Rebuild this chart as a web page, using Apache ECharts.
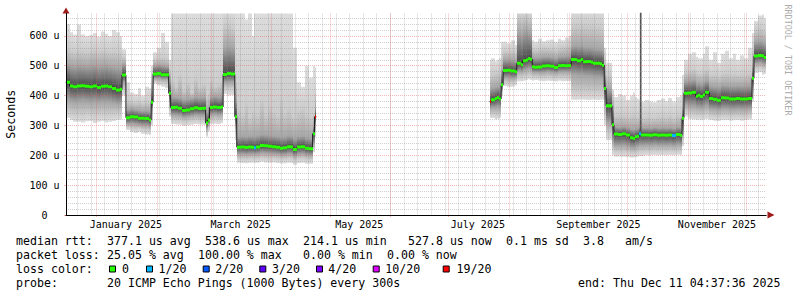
<!DOCTYPE html>
<html>
<head>
<meta charset="utf-8">
<title>SmokePing – median rtt (360 days)</title>
<script src="https://cdn.jsdelivr.net/npm/echarts@6.0.0/dist/echarts.min.js"></script>
<style>
html, body { margin: 0; padding: 0; background: #ffffff; }
#chart { width: 797px; height: 297px; }
</style>
</head>
<body>
<div id="chart"></div>
<script>
// ---------------- DATA ----------------
const rangeStart = '2024-12-16T04:37:36Z';
const rangeEnd   = '2025-12-11T04:37:36Z';

// start of each sample column; a column lasts until the next date. null rows = no data
const sampleDates = [
  '2024-12-16','2024-12-18','2024-12-20','2024-12-22','2024-12-24','2024-12-26','2024-12-28','2024-12-30','2025-01-01','2025-01-03','2025-01-05','2025-01-07','2025-01-09','2025-01-11','2025-01-13','2025-01-14',
  '2025-01-16','2025-01-18','2025-01-20','2025-01-22','2025-01-24','2025-01-26','2025-01-28','2025-01-29',
  '2025-01-30','2025-02-01','2025-02-03','2025-02-05','2025-02-07',
  '2025-02-08','2025-02-10','2025-02-12','2025-02-14','2025-02-16','2025-02-18','2025-02-20','2025-02-22','2025-02-24','2025-02-26','2025-02-27','2025-02-28','2025-03-02','2025-03-04','2025-03-06',
  '2025-03-07','2025-03-09','2025-03-11','2025-03-13',
  '2025-03-14','2025-03-16','2025-03-18','2025-03-20','2025-03-22','2025-03-23','2025-03-24','2025-03-26','2025-03-28','2025-03-30','2025-04-01','2025-04-03','2025-04-05','2025-04-07','2025-04-09','2025-04-11','2025-04-12','2025-04-14','2025-04-16','2025-04-18','2025-04-20','2025-04-22','2025-04-23',
  '2025-04-24',
  '2025-07-22','2025-07-23','2025-07-25','2025-07-26','2025-07-27','2025-07-28',
  '2025-07-29','2025-07-31','2025-08-02','2025-08-04',
  '2025-08-05','2025-08-07','2025-08-08','2025-08-10','2025-08-11','2025-08-12',
  '2025-08-13','2025-08-14','2025-08-16','2025-08-18','2025-08-20','2025-08-22','2025-08-24','2025-08-26','2025-08-28','2025-08-30','2025-09-01',
  '2025-09-02','2025-09-04','2025-09-05','2025-09-07','2025-09-08','2025-09-10','2025-09-12','2025-09-13','2025-09-15','2025-09-17','2025-09-18','2025-09-19','2025-09-20','2025-09-23',
  '2025-09-24','2025-09-26','2025-09-28','2025-09-30','2025-10-02','2025-10-04','2025-10-05','2025-10-06','2025-10-07','2025-10-08','2025-10-10','2025-10-12','2025-10-14','2025-10-16','2025-10-18','2025-10-20','2025-10-22','2025-10-24','2025-10-26','2025-10-28','2025-10-29',
  '2025-10-30','2025-11-01','2025-11-03','2025-11-05','2025-11-06','2025-11-07','2025-11-09','2025-11-10','2025-11-12','2025-11-14','2025-11-16','2025-11-18','2025-11-20','2025-11-22','2025-11-24','2025-11-26','2025-11-28','2025-11-30','2025-12-02','2025-12-04',
  '2025-12-05','2025-12-07','2025-12-09','2025-12-10',
  '2025-12-11T04:37:36Z'
];

// median rtt (microseconds)
const median = [
  445,432,430,432,433,431,430,432,427,431,432,430,424,419,421,469,
  326,329,328,324,324,323,318,378,
  472,474,470,470,408,
  360,361,358,350,352,356,359,357,358,308,318,360,362,360,362,
  471,474,472,329,
  227,228,226,228,227,225,228,233,232,230,229,227,224,225,229,228,219,228,229,224,222,272,329,
  null,
  380,386,390,394,389,436,
  484,485,482,480,
  508,503,517,519,524,522,
  497,495,496,499,500,498,494,500,501,500,501,
  521,521,517,521,513,514,512,508,508,507,502,424,366,302,
  271,270,272,268,259,256,262,264,272,268,268,267,269,267,268,267,268,266,270,267,324,
  408,409,411,398,401,397,402,411,390,388,384,393,392,389,389,390,389,389,390,458,
  533,534,533,528,
  null
];

// smoke: lowest ping
const pingLow = [
  325,318,312,312,310,314,315,308,312,315,310,312,315,318,320,400,
  285,278,275,278,272,270,268,300,
  440,435,430,425,330,
  305,303,302,298,300,302,305,303,302,262,280,305,306,305,308,
  405,400,402,250,
  175,174,173,175,176,174,175,178,176,175,176,174,172,173,175,174,168,174,175,172,172,210,260,
  null,
  325,325,320,322,325,400,
  432,428,430,435,
  448,447,450,452,455,452,
  450,452,450,448,450,449,447,450,448,449,448,
  386,385,386,388,386,385,386,387,385,386,386,300,250,200,
  195,196,195,194,192,193,194,195,198,198,200,200,201,200,201,200,201,200,202,200,230,
  330,322,320,318,320,318,320,322,318,316,315,318,318,316,317,318,316,318,320,380,
  475,478,470,472,
  null
];

// smoke: lower edge of the medium grey band
const midLow = [
  345,338,335,336,333,338,336,332,335,338,334,336,338,340,342,420,
  293,290,288,290,286,285,282,320,
  448,445,442,440,345,
  318,316,315,312,314,316,318,316,315,275,292,318,320,318,320,
  425,422,424,270,
  188,188,187,189,189,188,189,192,190,189,190,188,186,187,189,188,182,188,189,186,185,225,275,
  null,
  335,338,335,336,338,410,
  445,442,444,446,
  462,460,464,466,468,466,
  462,463,462,461,463,462,460,462,461,462,462,
  410,408,410,412,410,408,410,410,408,410,408,330,275,220,
  212,212,212,210,206,206,208,210,213,213,214,214,215,214,215,214,215,214,216,214,250,
  345,338,336,334,335,333,336,338,332,330,328,332,332,330,331,332,330,332,334,400,
  490,492,488,488,
  null
];

// smoke: lower edge of the dark core
const coreLow = [
  385,380,378,380,382,380,378,380,378,380,380,378,375,372,374,445,
  305,306,304,302,300,300,296,350,
  458,458,455,455,370,
  335,334,333,328,330,332,335,334,333,290,305,336,338,336,338,
  445,445,446,295,
  204,204,203,204,205,203,205,208,207,206,205,204,201,202,205,204,197,204,205,201,200,240,295,
  null,
  355,360,360,362,360,420,
  460,460,458,460,
  482,480,485,488,490,488,
  478,478,477,478,480,478,476,480,480,480,480,
  470,470,468,470,466,465,465,462,462,460,458,370,310,245,
  232,232,233,230,225,224,228,230,233,233,234,233,235,233,234,233,234,232,236,233,275,
  370,365,364,360,360,358,362,365,355,354,352,356,356,354,354,355,354,355,356,425,
  508,510,506,505,
  null
];

// smoke: upper edge of the dark core
const coreHigh = [
  505,500,498,502,500,498,500,503,498,500,502,498,495,492,490,505,
  352,355,352,350,348,348,345,430,
  500,502,500,498,450,
  395,394,392,385,388,390,395,392,393,345,360,395,398,395,400,
  560,565,560,380,
  262,263,262,264,263,262,265,270,268,266,265,263,260,261,265,264,256,262,264,258,256,300,360,
  null,
  420,425,428,430,428,480,
  520,520,518,515,
  610,600,615,620,610,610,
  528,526,527,530,530,528,525,530,531,532,533,
  565,568,565,570,562,562,560,558,556,555,552,470,420,360,
  295,294,296,292,288,286,290,290,295,292,292,291,293,291,292,291,292,290,294,292,360,
  448,450,452,440,442,438,444,450,432,430,428,435,434,432,432,433,432,432,434,500,
  580,582,578,575,
  null
];

// smoke: upper edge of the medium grey band
const midHigh = [
  560,552,548,555,550,548,552,556,550,553,552,548,550,548,545,530,
  385,380,378,382,375,380,375,470,
  522,525,530,525,490,
  450,430,470,420,445,410,460,430,440,400,410,455,430,440,450,
  640,645,630,450,
  360,340,380,330,350,345,340,390,340,370,350,335,400,345,360,340,330,350,360,340,330,340,420,
  null,
  470,475,478,480,480,530,
  550,548,552,545,
  670,665,670,672,660,665,
  560,556,560,562,560,558,555,562,565,568,570,
  640,645,640,645,640,638,640,636,635,632,630,520,470,400,
  335,338,335,330,335,338,330,330,330,325,328,325,326,330,332,328,334,326,335,340,420,
  480,485,490,478,476,475,480,490,470,472,465,475,478,470,474,470,472,470,478,560,
  625,630,625,620,
  null
];

// smoke: highest ping (values above the top are cut by the graph)
const pingHigh = [
  640,612,605,638,605,600,603,610,598,615,607,600,620,612,600,555,
  445,410,405,425,400,430,425,500,
  545,560,610,580,520,
  700,700,700,700,700,700,700,700,700,700,700,700,700,700,700,
  700,700,700,700,
  700,700,655,700,600,700,700,700,700,700,700,700,700,700,700,700,560,445,430,500,460,500,495,
  null,
  520,525,515,520,525,580,
  580,575,585,570,
  700,700,700,700,700,700,
  585,580,590,582,585,588,580,590,585,595,600,
  700,700,700,700,700,700,700,700,700,700,700,560,510,420,
  395,405,400,385,400,410,395,390,385,380,385,380,378,385,390,382,392,380,395,400,470,
  520,540,545,530,525,525,540,565,520,545,510,540,550,525,540,520,535,525,560,610,
  650,668,672,660,
  null
];

// lost pings out of 20 per column
const lossCount = [
  0,0,0,0,0,0,0,0,0,0,0,0,0,0,0,0,
  0,0,0,0,0,0,0,0,
  0,0,0,0,0,
  0,0,0,0,0,0,0,0,0,0,0,0,0,0,0,
  0,0,0,0,
  0,0,0,0,0,1,0,0,0,0,0,0,0,0,0,0,0,0,0,0,0,0,19,
  null,
  19,0,0,0,0,0,
  0,0,0,0,
  0,0,0,0,0,0,
  0,0,0,0,0,0,0,0,0,0,0,
  0,0,0,0,0,0,0,0,0,0,0,0,0,0,
  0,0,0,0,0,0,0,0,1,0,0,0,0,0,0,0,0,1,0,0,0,
  0,0,0,0,0,0,0,0,0,0,0,0,0,0,0,0,0,0,0,0,
  0,0,0,0,
  null
];

// single column whose pings reach past the top of the graph
const spikeDates = ['2025-10-07T18:00:00Z'];
const spikeBase  = [272];
const spikeTop   = [700];

// loss colour legend
const lossLevels = [0, 1, 2, 3, 4, 10, 19];
const lossLabels = ['0', '1/20', '2/20', '3/20', '4/20', '10/20', '19/20'];
const lossColors = ['#26ff00', '#00b8ff', '#0059ff', '#5e00ff', '#7e00ff', '#dd00ff', '#ff0000'];

// axis tick labels
const yTickValues = [0, 100, 200, 300, 400, 500, 600];
const yTickUnit = 'u';
const xLabelMonths = ['2025-01', '2025-03', '2025-05', '2025-07', '2025-09', '2025-11'];
const xLabelTexts = ['January 2025', 'March 2025', 'May 2025', 'July 2025', 'September 2025', 'November 2025'];

// footer texts
const statsRtt = ['median rtt:', '377.1 us avg', '538.6 us max', '214.1 us min', '527.8 us now', '0.1 ms sd', '3.8', 'am/s'];
const statsLoss = ['packet loss:', '25.05 % avg', '100.00 % max', '0.00 % min', '0.00 % now'];
const lossTitle = 'loss color:';
const probeTitle = 'probe:';
const probeText = '20 ICMP Echo Pings (1000 Bytes) every 300s';
const endText = 'end: Thu Dec 11 04:37:36 2025';
const yTitle = 'Seconds';
const sideText = 'RRDTOOL / TOBI OETIKER';

// ---------------- STYLE / LAYOUT ----------------
const MONO = '"DejaVu Sans Mono", "Liberation Mono", monospace';
const CHAR_W = 7;
const LEG_FONT = '11.6px ' + MONO;
const YMAX = 675;
const GRID_MINOR = 'rgba(140,140,140,0.42)';
const GRID_MAJOR = 'rgba(230,80,80,0.42)';
const ARROW = '#a01c1c';
const SMOKE_OUTER = '#dddddd', SMOKE_MID = '#cdcdcd', SMOKE_CORE = '#a6a6a6', SMOKE_CENTER = '#474747';
const rttCols = [0, 13, 27, 41, 56, 70, 81, 87];
const lossCols = [0, 13, 26, 41, 53];
const legendBoxX = [109, 146, 202.7, 259.3, 316, 372.7, 442.7];
const legendTextX = [122, 158.6, 215.3, 272, 328.3, 385.3, 456.6];
const lineY = [240.7, 255.3, 269.3, 283.3];

// ---------------- BUILD ----------------
const toTime = s => Date.parse(s.length === 10 ? s + 'T00:00:00Z' : s);
const START = toTime(rangeStart), END = toTime(rangeEnd);
const DAY = 864e5;

function lossColor(c) {
  let col = lossColors[0];
  for (let k = 0; k < lossLevels.length; k++) if (c >= lossLevels[k]) col = lossColors[k];
  return col;
}

const smokeData = [], markData = [], lineData = [];
for (let i = 0; i < sampleDates.length - 1; i++) {
  if (median[i] == null) continue;
  const t0 = toTime(sampleDates[i]), t1 = toTime(sampleDates[i + 1]);
  smokeData.push([t0, t1, pingLow[i], midLow[i], coreLow[i], median[i], coreHigh[i], midHigh[i], pingHigh[i]]);
  markData.push([t0, t1, median[i], lossCount[i]]);
  lineData.push([t0, median[i]]);
  if (median[i + 1] == null) { lineData.push([t1, median[i]]); lineData.push([t1, null]); }
}
const spikeData = [];
spikeDates.forEach((d, k) => { spikeData.push([toTime(d), spikeBase[k]], [toTime(d), spikeTop[k]], [toTime(d), null]); });

// grid positions (rrdtool: minor = weeks starting Sunday, major = month starts)
const weekTicks = [];
{
  const d0 = new Date(START);
  let w = Date.UTC(d0.getUTCFullYear(), d0.getUTCMonth(), d0.getUTCDate()) + ((7 - d0.getUTCDay()) % 7) * DAY;
  if (w < START) w += 7 * DAY;
  for (; w < END; w += 7 * DAY) weekTicks.push(w);
}
const monthTicks = [];
{
  const d0 = new Date(START);
  let y = d0.getUTCFullYear(), m = d0.getUTCMonth() + 1;
  for (;;) {
    const t = Date.UTC(y, m, 1);
    if (t >= END) break;
    monthTicks.push(t);
    m++;
  }
}
const xLabelPos = xLabelMonths.map(m => toTime(m + '-01') + 15 * DAY);
const yMinor = [];
for (let v = 20; v < YMAX; v += 20) if (v % 100 !== 0) yMinor.push(v);

function renderSmoke(params, api) {
  const t0 = api.value(0), t1 = api.value(1);
  const x0 = Math.round(api.coord([t0, 0])[0]);
  const x1 = Math.round(api.coord([t1, 0])[0]);
  const ys = [2, 3, 4, 5, 6, 7, 8].map(d => api.coord([t0, api.value(d)])[1]);
  const top = ys[6], bot = ys[0], h = bot - top;
  if (!(h > 0)) return null;
  const off = y => Math.min(1, Math.max(0, (y - top) / h));
  const stops = [
    { offset: 0, color: SMOKE_OUTER },
    { offset: off(ys[5]), color: SMOKE_MID },
    { offset: off(ys[4]), color: SMOKE_CORE },
    { offset: off(ys[3]), color: SMOKE_CENTER },
    { offset: off(ys[2]), color: SMOKE_CORE },
    { offset: off(ys[1]), color: SMOKE_MID },
    { offset: 1, color: SMOKE_OUTER }
  ];
  return {
    type: 'rect',
    shape: { x: x0, y: top, width: x1 - x0, height: h },
    style: { fill: new echarts.graphic.LinearGradient(0, 0, 0, 1, stops) }
  };
}

function renderMedian(params, api) {
  const p0 = api.coord([api.value(0), api.value(2)]);
  const x1 = Math.round(api.coord([api.value(1), api.value(2)])[0]);
  const x0 = Math.round(p0[0]);
  return {
    type: 'rect',
    shape: { x: x0, y: p0[1] - 1.5, width: x1 - x0, height: 3 },
    style: { fill: lossColor(api.value(3)) }
  };
}

const hiddenX = (extra) => Object.assign({
  type: 'value', min: START, max: END, position: 'bottom', gridIndex: 0, scale: true,
  axisLine: { show: false }, axisTick: { show: false }, axisLabel: { show: false }, splitLine: { show: false }
}, extra);
const hiddenY = (extra) => Object.assign({
  type: 'value', min: 0, max: YMAX, position: 'left', gridIndex: 0,
  axisLine: { show: false }, axisTick: { show: false }, axisLabel: { show: false }, splitLine: { show: false }
}, extra);

// footer graphics
const graphics = [];
const txt = (x, y, s, extra) => Object.assign({ type: 'text', x, y,
  style: { text: s, font: LEG_FONT, fill: '#000', align: 'left', verticalAlign: 'middle' } }, extra || {});
statsRtt.forEach((s, k) => graphics.push(txt(16 + rttCols[k] * CHAR_W, lineY[0], s)));
statsLoss.forEach((s, k) => graphics.push(txt(16 + lossCols[k] * CHAR_W, lineY[1], s)));
graphics.push(txt(16, lineY[2], lossTitle));
lossLabels.forEach((s, k) => {
  graphics.push({ type: 'rect', shape: { x: legendBoxX[k] + 0.5, y: lineY[2] - 3.3, width: 6, height: 6 },
    style: { fill: lossColors[k], stroke: '#000', lineWidth: 1 } });
  graphics.push(txt(legendTextX[k], lineY[2], s));
});
graphics.push(txt(16, lineY[3], probeTitle));
graphics.push(txt(16 + 13 * CHAR_W, lineY[3], probeText));
graphics.push({ type: 'text', x: 780.5, y: lineY[3],
  style: { text: endText, font: LEG_FONT, fill: '#000', align: 'right', verticalAlign: 'middle' } });
graphics.push({ type: 'text', x: 788, y: 60, rotation: -Math.PI / 2,
  style: { text: sideText, font: '8.4px ' + MONO, fill: '#ababab', align: 'center', verticalAlign: 'middle' } });

const chart = echarts.init(document.getElementById('chart'), null, { renderer: 'svg' });
chart.setOption({
  animation: false,
  backgroundColor: '#ffffff',
  grid: { left: 66, top: 13.5, width: 700, height: 201.5, containLabel: false, outerBoundsMode: 'none' },
  xAxis: [
    hiddenX({ z: 8, axisLine: { show: true, lineStyle: { color: '#000', width: 1 } } }),
    hiddenX({ z: 7, axisLine: { show: true, symbol: ['none', 'triangle'], symbolSize: [7, 7], symbolOffset: [0, 5],
      lineStyle: { color: ARROW, width: 1 } } }),
    hiddenX({ z: 3, axisTick: { show: false, customValues: weekTicks },
      splitLine: { show: true, lineStyle: { color: GRID_MINOR, width: 1, type: [1, 1] } } }),
    hiddenX({ z: 3, axisTick: { show: true, customValues: monthTicks, length: 2, lineStyle: { color: GRID_MAJOR } },
      splitLine: { show: true, lineStyle: { color: GRID_MAJOR, width: 1, type: [1, 1] } } }),
    hiddenX({ z: 8, axisLabel: { show: true, customValues: xLabelPos, margin: 4, fontFamily: MONO, fontSize: 10, color: '#000',
      formatter: v => { for (let k = 0; k < xLabelPos.length; k++) if (Math.abs(xLabelPos[k] - v) < DAY) return xLabelTexts[k]; return ''; } } })
  ],
  yAxis: [
    hiddenY({ z: 8, interval: 100,
      name: yTitle, nameLocation: 'middle', nameGap: 49.5,
      nameTextStyle: { fontFamily: MONO, fontSize: 11.6, color: '#000' },
      axisLine: { show: true, lineStyle: { color: '#000', width: 1 } },
      axisTick: { show: true, customValues: yTickValues, length: 2, lineStyle: { color: GRID_MAJOR } },
      axisLabel: { show: true, customValues: yTickValues, margin: 6.5, fontFamily: MONO, fontSize: 10, color: '#000',
        formatter: v => v === 0 ? '{z|0}' : v + ' ' + yTickUnit,
        rich: { z: { fontFamily: MONO, fontSize: 10, color: '#000', padding: [0, 12, 0, 0] } } } }),
    hiddenY({ z: 7, axisLine: { show: true, symbol: ['none', 'triangle'], symbolSize: [7, 6], symbolOffset: [0, 3],
      lineStyle: { color: ARROW, width: 1 } } }),
    hiddenY({ z: 3, axisTick: { show: false, customValues: yMinor },
      splitLine: { show: true, lineStyle: { color: GRID_MINOR, width: 1, type: [1, 1] } } }),
    hiddenY({ z: 3, axisTick: { show: false, customValues: yTickValues },
      splitLine: { show: true, lineStyle: { color: GRID_MAJOR, width: 1, type: [1, 1] } } })
  ],
  series: [
    { type: 'custom', name: 'smoke', xAxisIndex: 0, yAxisIndex: 0, z: 1, clip: true, silent: true,
      renderItem: renderSmoke, encode: { x: [0, 1], y: [2, 8] }, data: smokeData },
    { type: 'line', name: 'spike', xAxisIndex: 0, yAxisIndex: 0, z: 2, clip: true, silent: true,
      showSymbol: false, symbol: 'none', connectNulls: false,
      lineStyle: { color: '#555555', width: 1.7 }, data: spikeData },
    { type: 'line', name: 'median', xAxisIndex: 0, yAxisIndex: 0, z: 4, clip: true, silent: true,
      step: 'end', showSymbol: false, symbol: 'none', connectNulls: false,
      lineStyle: { color: '#202020', width: 1 }, data: lineData },
    { type: 'custom', name: 'median loss', xAxisIndex: 0, yAxisIndex: 0, z: 5, clip: true, silent: true,
      renderItem: renderMedian, encode: { x: [0, 1], y: 2 }, data: markData }
  ],
  graphic: graphics
});
</script>
</body>
</html>
